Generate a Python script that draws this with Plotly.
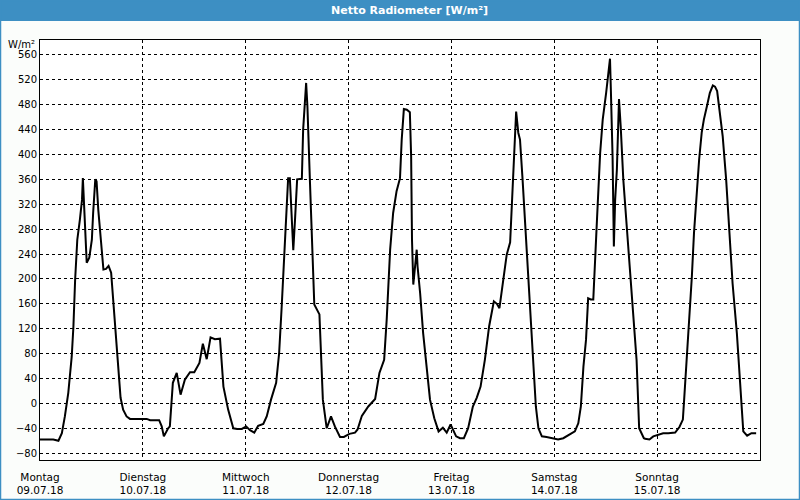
import plotly.graph_objects as go

# time in hours since Monday 09.07.18 00:00
hours = [0.0, 3.1, 4.3, 5.1, 5.8, 6.6, 7.4, 7.8, 8.2, 8.7, 9.3, 9.8, 10.0, 10.2, 10.5, 10.9,
         11.5, 12.1, 12.4, 12.9, 13.2, 13.6, 14.2, 14.8, 15.4, 16.0, 16.6, 17.1, 17.7, 18.3,
         18.8, 19.4, 20.2, 21.0, 22.6, 24.9, 25.7, 27.8, 28.4, 28.9,
         29.9, 30.3, 31.0, 31.9, 32.8, 33.8, 35.0, 36.0, 37.2, 38.0, 38.9, 39.8, 40.8, 42.0,
         42.8, 43.9, 45.1, 46.0, 47.1, 48.1, 49.0, 50.0, 50.9, 52.1, 52.9, 53.9, 55.1, 55.8,
         56.4, 56.9, 57.4, 57.9, 58.3, 58.7, 59.1, 59.5, 60.0, 61.1, 61.4, 62.1, 62.4, 63.0,
         63.5, 64.0, 65.2, 65.5, 66.0, 66.9, 67.9, 68.8, 70.0, 70.9, 72.2, 73.5, 74.1, 75.1,
         76.6, 78.2, 79.2, 80.3, 80.9, 81.7, 82.4, 83.2, 84.0, 84.4, 84.9, 85.6, 86.3, 86.6,
         86.8, 87.1, 87.6, 87.9, 88.1, 88.7, 89.4, 90.2, 91.0, 92.0, 93.0, 94.0, 94.9, 95.8,
         97.1, 98.0, 98.9, 99.9, 101.0, 101.9, 102.8, 103.8, 104.8, 105.9, 106.6, 107.2, 108.1,
         108.9, 109.7, 110.3, 110.7, 111.1, 111.6, 112.0, 112.6, 113.4, 114.2, 115.0, 115.7,
         116.3, 117.1, 118.2, 119.8, 120.9, 122.1, 123.7, 124.8, 125.6, 126.2, 126.8, 127.4,
         127.9, 128.5, 129.1, 129.5, 130.0, 130.7, 131.3, 132.1, 132.6, 133.0, 133.2, 133.6,
         133.9, 134.2, 134.6, 134.9, 135.1, 135.5, 136.1, 136.9, 137.7, 138.4, 139.2, 139.8,
         140.9, 141.2, 142.2, 143.1, 144.3, 145.4, 146.6, 148.2, 149.2, 150.0, 150.3, 150.9,
         151.5, 152.1, 152.6, 153.2, 153.8, 154.4, 154.9, 155.6, 156.3, 157.0, 157.5, 158.0,
         158.7, 159.3, 160.1, 160.8, 161.6, 162.6, 163.2, 163.7, 164.1, 165.0, 166.0, 167.1]

values = [-58, -58, -60, -48, -21, 17, 75, 124, 199, 263, 295, 327, 362, 327, 285, 226,
          234, 263, 306, 360, 357, 311, 263, 215, 216, 221, 210, 167, 113, 59,
          9, -10, -21, -25, -25, -25, -27, -27, -37, -53,
          -40, -37, 33, 49, 14, 38, 50, 50, 65, 96, 71, 106, 103, 104,
          27, -10, -40, -41, -41, -37, -43, -47, -36, -33, -21, 6, 33, 81,
          156, 231, 295, 362, 362, 306, 246, 295, 360, 361, 440, 515, 477, 354,
          258, 159, 143, 81, 6, -40, -21, -37, -54, -54, -49, -47, -42, -20,
          -5, 7, 49, 70, 135, 247, 306, 341, 362, 424, 473, 472, 468, 397,
          263, 191, 220, 247, 220, 177, 113, 54, 6, -24, -45, -39, -47, -34,
          -53, -56, -56, -40, -5, 9, 27, 70, 124, 164, 160, 153, 199,
          239, 259, 343, 413, 469, 435, 424, 360, 263, 156, 70, -5,
          -40, -53, -54, -57, -58, -56, -50, -45, -32, -5, 59, 102,
          169, 167, 167, 236, 301, 402, 456, 499, 531, 554, 504, 397,
          252, 327, 375, 445, 489, 445, 360, 285, 210, 140, 70, -40,
          -56, -57, -58, -53, -51, -48, -48, -47, -38, -26, 6, 70,
          135, 204, 274, 338, 392, 435, 456, 477, 499, 511, 509, 502,
          467, 429, 360, 274, 193, 113, 49, -5, -45, -52, -48, -48]

day_ticks = [0, 24, 48, 72, 96, 120, 144]
day_labels = ["Montag<br>09.07.18", "Dienstag<br>10.07.18", "Mittwoch<br>11.07.18",
              "Donnerstag<br>12.07.18", "Freitag<br>13.07.18", "Samstag<br>14.07.18",
              "Sonntag<br>15.07.18"]
y_ticks = list(range(-80, 561, 40))

W, H = 800, 500
FONT = "DejaVu Sans"

fig = go.Figure()
fig.add_trace(go.Scatter(x=hours, y=values, mode="lines",
                         line=dict(color="black", width=2), hoverinfo="skip"))

fig.update_layout(
    width=W, height=H, autosize=False,
    margin=dict(l=0, r=0, t=0, b=0, pad=0),
    paper_bgcolor="#fbfdfb", plot_bgcolor="white",
    showlegend=False,
    font=dict(family=FONT, size=10, color="black"),
    xaxis=dict(domain=[40 / W, 760 / W], range=[0, 168], automargin=False,
               tickvals=day_ticks, ticktext=day_labels, ticklabelstandoff=7,
               showgrid=True, gridcolor="black", griddash="3px,3px", gridwidth=1,
               showline=True, linecolor="black", linewidth=1, mirror=True,
               ticks="", zeroline=False, tickfont=dict(size=10.5)),
    yaxis=dict(domain=[(H - 460) / H, (H - 40) / H], range=[-91, 584], automargin=False,
               tickvals=y_ticks,
               showgrid=True, gridcolor="black", griddash="3px,3px", gridwidth=1,
               showline=True, linecolor="black", linewidth=1, mirror=True,
               ticks="", zeroline=False, tickfont=dict(size=10)),
    shapes=[
        dict(type="rect", xref="paper", yref="paper", x0=0, x1=1, y0=1 - 21 / H, y1=1,
             fillcolor="#3d8fc3", line=dict(width=0), layer="above"),
        dict(type="rect", xref="paper", yref="paper", x0=0.5 / W, x1=1 - 0.5 / W,
             y0=0.5 / H, y1=1 - 0.5 / H, line=dict(color="#3d8fc3", width=1.5),
             fillcolor="rgba(0,0,0,0)", layer="above"),
    ],
    annotations=[
        dict(text="<b>Netto Radiometer [W/m²]</b>", xref="paper", yref="paper",
             x=410 / W, y=1 - 10.5 / H, showarrow=False, xanchor="center", yanchor="middle",
             font=dict(color="white", size=11, family=FONT)),
        dict(text="W/m²", xref="paper", yref="paper", x=37 / W, y=1 - 45 / H,
             showarrow=False, xanchor="right", yanchor="middle",
             font=dict(size=10, family=FONT)),
    ],
)

fig.write_html("out.html")
